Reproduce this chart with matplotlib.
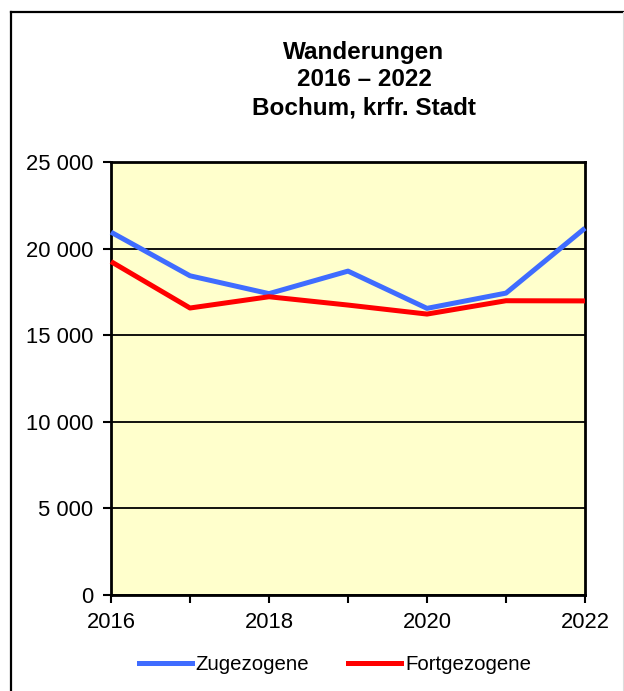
import matplotlib
matplotlib.use("Agg")
import matplotlib.pyplot as plt
from matplotlib.lines import Line2D
from matplotlib.ticker import FuncFormatter, MultipleLocator

plt.rcParams['font.family'] = ['Liberation Sans', 'DejaVu Sans']

years = [2016, 2017, 2018, 2019, 2020, 2021, 2022]
zugezogene = [20950, 18430, 17400, 18700, 16550, 17430, 21180]
fortgezogene = [19250, 16570, 17220, 16740, 16220, 16990, 16980]
title_lines = ["Wanderungen", "2016 \u2013 2022", "Bochum, krfr. Stadt"]
series_names = ["Zugezogene", "Fortgezogene"]

W, H = 624, 691
fig = plt.figure(figsize=(W / 100, H / 100), dpi=100)
fig.patch.set_facecolor('white')

def fx(px):
    return px / W

def fy(py):
    return 1 - py / H

# outer frame
fig.add_artist(Line2D([fx(11), fx(11)], [fy(12), 0], transform=fig.transFigure, color='black', lw=1.6))
fig.add_artist(Line2D([fx(11), 1], [fy(12), fy(12)], transform=fig.transFigure, color='black', lw=1.6))
fig.add_artist(Line2D([fx(623), fx(623)], [fy(12), 0], transform=fig.transFigure, color='#dddddd', lw=0.8))

left, right, top, bottom = 111, 585, 162, 595
ax = fig.add_axes([fx(left), fy(bottom), fx(right - left), (bottom - top) / H])
ax.set_facecolor('#ffffcc')

ax.plot(years, zugezogene, color='#3f6cff', lw=3.6, solid_capstyle='butt', zorder=3, clip_on=False)
ax.plot(years, fortgezogene, color='#ff0000', lw=3.6, solid_capstyle='butt', zorder=3, clip_on=False)

ax.set_xlim(2016, 2022)
ax.set_ylim(0, 25000)
ax.yaxis.set_major_locator(MultipleLocator(5000))
ax.xaxis.set_major_locator(MultipleLocator(2))
ax.xaxis.set_minor_locator(MultipleLocator(1))
ax.yaxis.set_major_formatter(FuncFormatter(lambda v, p: f"{int(v):,}".replace(",", " ")))
ax.grid(axis='y', color='black', lw=1.3, zorder=1)
for s in ax.spines.values():
    s.set_linewidth(2.0)
    s.set_color('black')
ax.tick_params(axis='both', which='both', direction='out', color='black', width=1.5, labelsize=15.8)
ax.tick_params(axis='y', length=6, pad=7)
ax.tick_params(axis='x', which='major', length=6, pad=6)
ax.tick_params(axis='x', which='minor', length=6, width=1.5)

for i, line in enumerate(title_lines):
    fig.text(fx(364), fy(52 + 28 * i), line, ha='center', va='center', fontsize=17.5, fontweight='bold')

handles = [Line2D([], [], color='#3f6cff', lw=3.6), Line2D([], [], color='#ff0000', lw=3.6)]
fig.legend(handles, series_names, loc='center', bbox_to_anchor=(fx(335), fy(665)), ncol=2,
           frameon=False, fontsize=14.7, handlelength=2.6, handletextpad=0.2, columnspacing=1.9)

fig.savefig('out.png', dpi=100)
